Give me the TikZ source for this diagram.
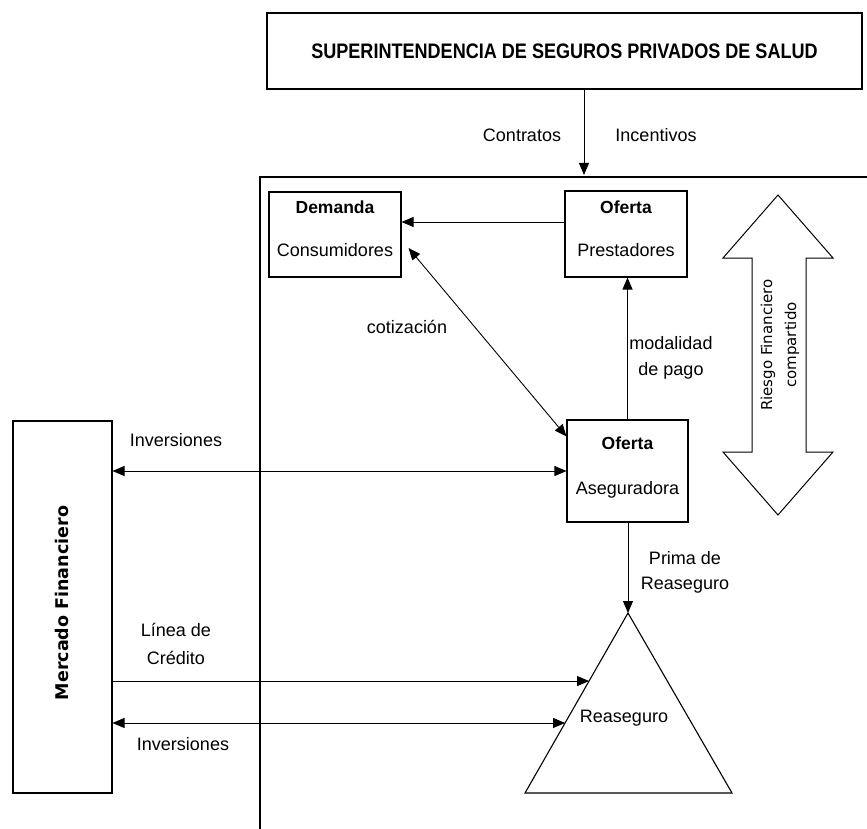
\documentclass[tikz,border=0pt]{standalone}
\usepackage{fontspec}
\setmainfont{Liberation Sans}
\newfontfamily\titlefont[FakeStretch=0.86]{Liberation Sans}
\newfontfamily\dejavu{DejaVu Sans}
\usetikzlibrary{arrows.meta,calc}
\tikzset{
  tip/.tip={Triangle[length=12pt,width=10pt]},
  box/.style={draw, line width=1.1pt, inner sep=0pt},
  thick box/.style={draw, line width=2pt, inner sep=0pt},
  lbl/.style={font=\fontsize{18}{21}\selectfont, inner sep=0pt},
  blbl/.style={font=\bfseries\fontsize{17.5}{21}\selectfont, inner sep=0pt},
  conn/.style={line width=0.9pt},
}
\begin{document}
\begin{tikzpicture}[x=1pt,y=-1pt]
\useasboundingbox (0,0) rectangle (867,829);
% top box
\node[thick box, minimum width=595pt, minimum height=76pt,
      font=\titlefont\bfseries\fontsize{21}{24}\selectfont] (sup) at (564.5,51)
      {SUPERINTENDENCIA DE SEGUROS PRIVADOS DE SALUD};
% frame
\draw[line width=2pt] (867,177) -- (260,177) -- (260,829);
\coordinate (frameTop) at (584,175);
\draw[conn,-tip] (sup.south -| frameTop) -- (frameTop);
\node[lbl] (contr) at (522,135) {Contratos};
\node[lbl] (incen) at (656,135) {Incentivos};
% boxes
\node[box, minimum width=132pt, minimum height=85pt] (dem) at (335,234.5) {};
\node[blbl] (demT) at (335,207) {Demanda};
\node[lbl] (demB) at (335,250) {Consumidores};
\node[box, minimum width=122pt, minimum height=86pt] (pres) at (626,234) {};
\node[blbl] (presT) at (626,207) {Oferta};
\node[lbl] (presB) at (626,250) {Prestadores};
\node[box, minimum width=121pt, minimum height=102pt] (ase) at (627.5,471) {};
\node[blbl] (aseT) at (627.5,443) {Oferta};
\node[lbl] (aseB) at (627.5,490) {Aseguradora};
\node[thick box, minimum width=99pt, minimum height=372pt] (merc) at (62,607) {};
\node[font=\dejavu\bfseries\fontsize{17.5}{20}\selectfont, rotate=90, inner sep=0pt] (mercT) at (62,603) {Mercado Financiero};
% triangle
\coordinate (triA) at (628,613);
\coordinate (triL) at (525,793);
\coordinate (triR) at (732,793);
\draw[line width=1.1pt] (triA) -- (triL) -- (triR) -- cycle;
\node[lbl] (reas) at (624,718) {Reaseguro};
\coordinate (L1) at ($(triA)!0.378!(triL)$);
\coordinate (L2) at ($(triA)!0.611!(triL)$);
% connectors
\draw[conn,-tip] (pres.west |- 0,222) -- (dem.east |- 0,222);
\draw[conn,tip-tip] ($(dem.east)+(7,13.5)$) -- ($(ase.north west)+(0,17)$);
\node[lbl] (cot) at (407,327) {cotización};
\draw[conn,-tip] (ase.north) -- (ase.north |- pres.south);
\node[lbl] (mod1) at (671,343) {modalidad};
\node[lbl] (mod2) at (671,371) {de pago};
\draw[conn,tip-tip] (merc.east |- 0,471) -- (ase.west |- 0,471);
\node[lbl] (inv1) at (176,440) {Inversiones};
\draw[conn,-tip] (ase.south -| triA) -- (triA);
\node[lbl] (pri1) at (685,558) {Prima de};
\node[lbl] (pri2) at (685,585) {Reaseguro};
\draw[conn,-tip] (merc.east |- L1) -- (L1);
\node[lbl] (lin1) at (176,630) {Línea de};
\node[lbl] (lin2) at (176,658) {Crédito};
\draw[conn,tip-tip] (merc.east |- L2) -- (L2);
\node[lbl] (inv2) at (183,744) {Inversiones};
% big double arrow
\draw[line width=1pt] (778,195) -- (833,258) -- (806,258) -- (806,452) -- (833,452)
  -- (778,515) -- (723,452) -- (752,452) -- (752,258) -- (723,258) -- cycle;
\node[font=\dejavu\fontsize{15}{24}\selectfont, rotate=90, align=center, inner sep=0pt] (riesgo) at (780,345)
  {Riesgo Financiero\\compartido};
\end{tikzpicture}
\end{document}
